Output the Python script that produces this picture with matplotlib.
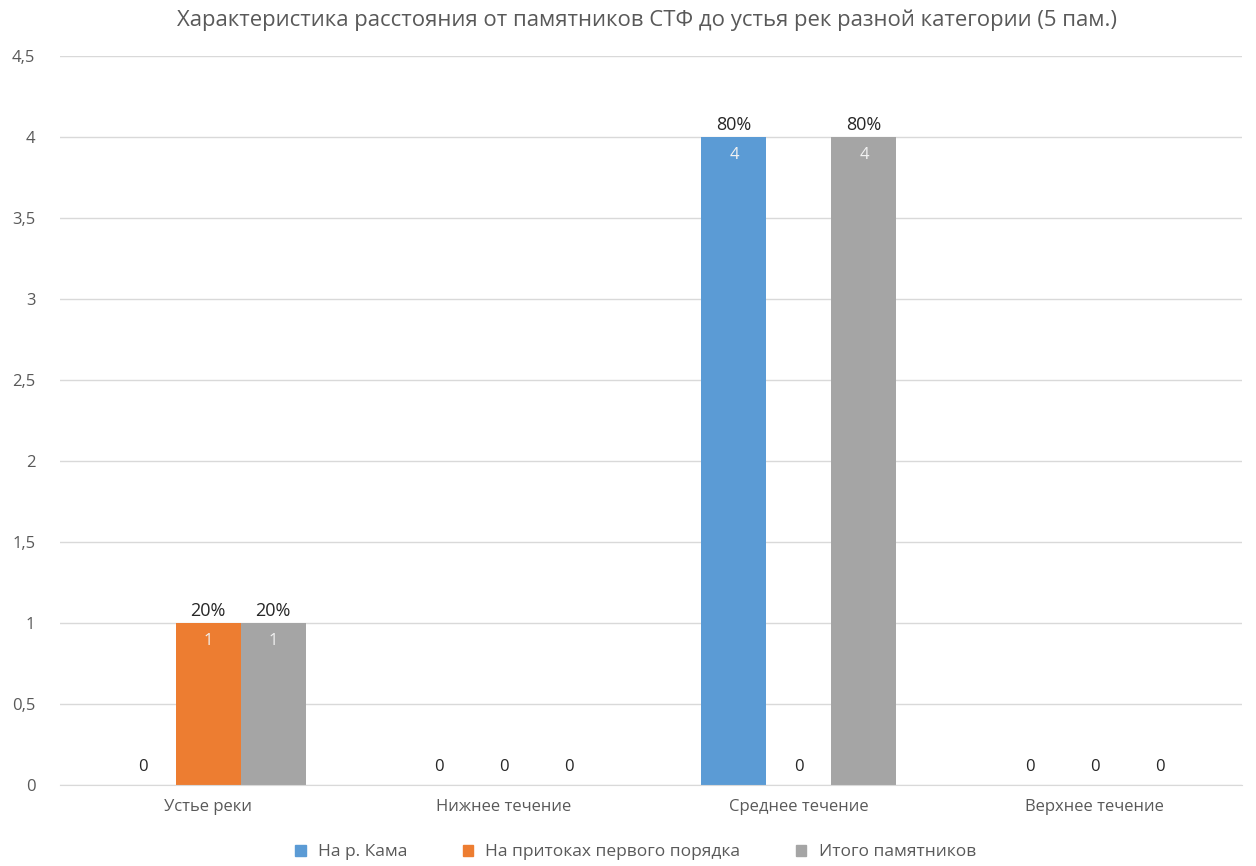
import matplotlib
matplotlib.use("Agg")
import matplotlib.pyplot as plt
import numpy as np
from matplotlib.patches import Patch

plt.rcParams['font.family'] = ['Open Sans', 'DejaVu Sans']

title = "Характеристика расстояния от памятников СТФ до устья рек разной категории (5 пам.)"
categories = ['Устье реки', 'Нижнее течение', 'Среднее течение', 'Верхнее течение']
series_names = ['На р. Кама', 'На притоках первого порядка', 'Итого памятников']
kama = [0, 0, 4, 0]
pritoki = [1, 0, 0, 0]
itogo = [1, 0, 4, 0]
total = 5
yticks = [0, 0.5, 1, 1.5, 2, 2.5, 3, 3.5, 4, 4.5]
ytick_labels = ['0', '0,5', '1', '1,5', '2', '2,5', '3', '3,5', '4', '4,5']
colors = ['#5B9BD5', '#ED7D31', '#A5A5A5']

fig = plt.figure(figsize=(12.56, 8.66), dpi=100)
ax = fig.add_axes([0.048, 0.0935, 0.941, 0.8415])

x = np.arange(len(categories))
w = 0.22
series = [kama, pritoki, itogo]
for i, (vals, col) in enumerate(zip(series, colors)):
    xs = x + (i - 1) * w
    ax.bar(xs, vals, width=w, color=col, zorder=2)
    for xx, v in zip(xs, vals):
        if v == 0:
            ax.text(xx, 0.11, '0', ha='center', va='center', fontsize=12, color='#262626')
        else:
            ax.text(xx, v - 0.11, f'{v}', ha='center', va='center', fontsize=12, color='#F2F2F2')
            ax.text(xx, v + 0.075, f'{round(v / total * 100)}%', ha='center', va='center',
                    fontsize=13, color='#262626')

ax.set_xlim(-0.5, len(categories) - 0.5)
ax.set_ylim(0, 4.5)
ax.set_yticks(yticks)
ax.set_yticklabels(ytick_labels)
ax.set_xticks(x)
ax.set_xticklabels(categories)
ax.tick_params(axis='both', length=0, labelsize=12, labelcolor='#595959')
ax.tick_params(axis='y', pad=18)
ax.tick_params(axis='x', pad=10)
ax.grid(axis='y', color='#D9D9D9', linewidth=1, zorder=0)
ax.set_axisbelow(True)
for s in ['top', 'right', 'left']:
    ax.spines[s].set_visible(False)
ax.spines['bottom'].set_color('#D9D9D9')

fig.text(0.515, 0.977, title, ha='center', va='center', fontsize=15.9, color='#595959')

handles = [Patch(color=c, label=n) for c, n in zip(colors, series_names)]
fig.legend(handles=handles, loc='center', bbox_to_anchor=(0.506, 0.016), ncol=3, frameon=False,
           fontsize=12.5, labelcolor='#595959', handlelength=0.6, handleheight=0.6,
           handletextpad=0.7, columnspacing=3.2)

fig.savefig('out.png', dpi=100)
